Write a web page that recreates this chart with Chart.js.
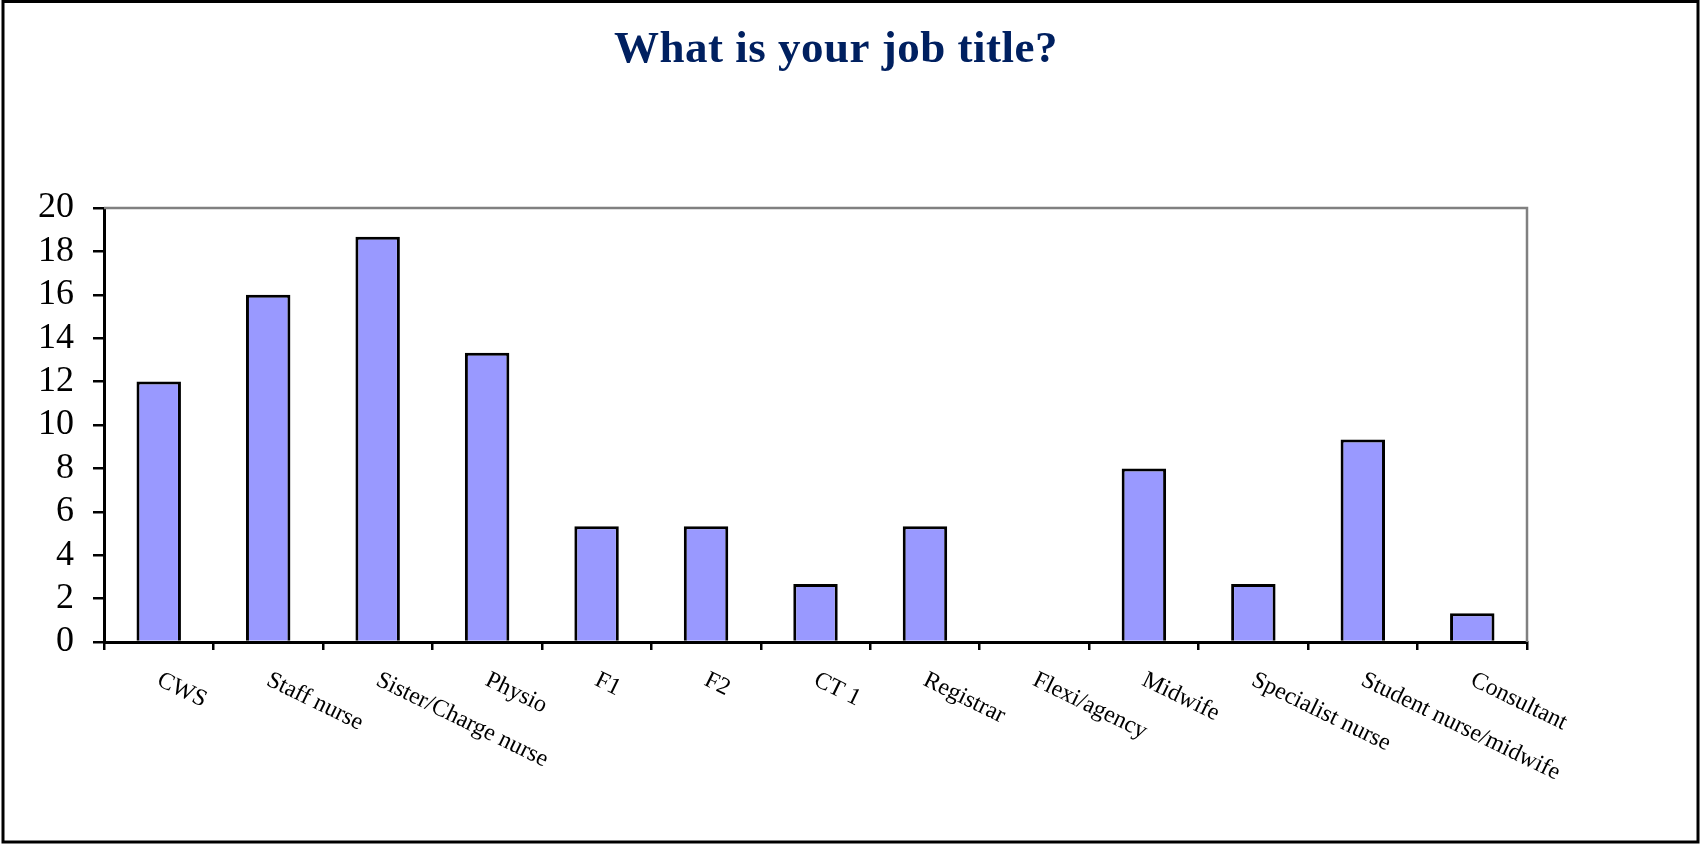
<!DOCTYPE html>
<html>
<head>
<meta charset="utf-8">
<title>What is your job title?</title>
<script src="https://cdn.jsdelivr.net/npm/chart.js@4.4.1/dist/chart.umd.min.js"></script>
<style>
  html, body { margin: 0; padding: 0; background: #ffffff; }
  canvas { display: block; }
</style>
</head>
<body>
<canvas id="jobChart" width="1700" height="844"></canvas>
<script>
const chartTitle = "What is your job title?";
const jobTitles = [
  "CWS",
  "Staff nurse",
  "Sister/Charge nurse",
  "Physio",
  "F1",
  "F2",
  "CT 1",
  "Registrar",
  "Flexi/agency",
  "Midwife",
  "Specialist nurse",
  "Student nurse/midwife",
  "Consultant"
];
const percentages = [12, 16, 18.67, 13.33, 5.33, 5.33, 2.67, 5.33, 0, 8, 2.67, 9.33, 1.33];
const yTicks = [0, 2, 4, 6, 8, 10, 12, 14, 16, 18, 20];

const serif = "'Liberation Serif', 'Times New Roman', serif";

// frame, plot box, title and slanted category labels
const decorations = {
  id: "decorations",
  afterDraw(chart) {
    const ctx = chart.ctx;
    const area = chart.chartArea;
    ctx.save();

    // outer frame
    ctx.strokeStyle = "#000000";
    ctx.lineWidth = 3;
    ctx.strokeRect(3, 1.5, 1695, 840.5);

    // grey top and right edges of the plot area
    ctx.strokeStyle = "#808080";
    ctx.lineWidth = 2.5;
    ctx.beginPath();
    ctx.moveTo(area.left, area.top);
    ctx.lineTo(area.right, area.top);
    ctx.lineTo(area.right, area.bottom);
    ctx.stroke();

    // title
    ctx.fillStyle = "#002060";
    ctx.font = "bold 45px " + serif;
    ctx.textAlign = "center";
    ctx.textBaseline = "alphabetic";
    ctx.letterSpacing = "0.5px";
    ctx.fillText(chartTitle, 836, 62);
    ctx.letterSpacing = "0px";

    // category labels, turned clockwise
    const x = chart.scales.x;
    ctx.fillStyle = "#000000";
    ctx.font = "24px " + serif;
    ctx.textAlign = "left";
    jobTitles.forEach((label, i) => {
      ctx.save();
      ctx.translate(x.getPixelForTick(i) + 4, area.bottom + 28);
      ctx.rotate(26 * Math.PI / 180);
      ctx.fillText(label, 0, 16);
      ctx.restore();
    });
    ctx.restore();
  }
};

new Chart(document.getElementById("jobChart"), {
  type: "bar",
  data: {
    labels: jobTitles,
    datasets: [
      {
        label: chartTitle,
        data: percentages,
        backgroundColor: "#9999FF",
        borderColor: "#000000",
        borderWidth: 3,
        barPercentage: 0.406,
        categoryPercentage: 1
      }
    ]
  },
  options: {
    responsive: false,
    animation: false,
    layout: {
      padding: { top: 208, left: 30, right: 173, bottom: 0 }
    },
    plugins: {
      legend: { display: false },
      title: { display: false },
      tooltip: { enabled: false }
    },
    scales: {
      x: {
        z: 1,
        offset: true,
        grid: {
          offset: true,
          drawOnChartArea: false,
          drawTicks: true,
          tickLength: 8,
          color: "#000000",
          lineWidth: 2.5
        },
        border: { color: "#000000", width: 3 },
        ticks: { display: false },
        afterFit(scale) {
          scale.height = 202;
        }
      },
      y: {
        z: 1,
        min: 0,
        max: 20,
        afterBuildTicks(scale) {
          scale.ticks = yTicks.map(v => ({ value: v }));
        },
        grid: {
          drawOnChartArea: false,
          drawTicks: true,
          tickLength: 11,
          color: "#000000",
          lineWidth: 2.5
        },
        border: { color: "#000000", width: 3 },
        ticks: {
          autoSkip: false,
          padding: 19,
          color: "#000000",
          font: { family: serif, size: 36 }
        },
        afterFit(scale) {
          scale.width = 74;
        }
      }
    }
  },
  plugins: [decorations]
});
</script>
</body>
</html>
